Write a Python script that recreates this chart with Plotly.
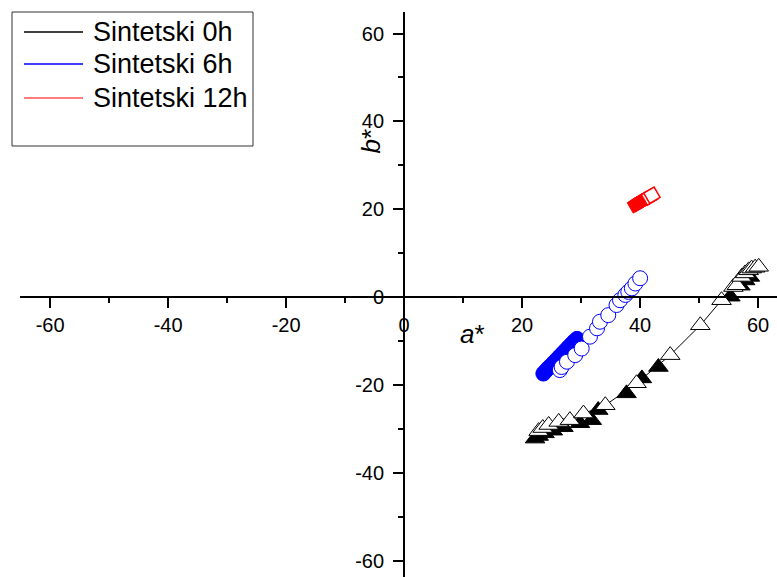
import plotly.graph_objects as go

# ---------------- data ----------------
a_0h_open = [22.8, 23.5, 24.5, 26.2, 28.1, 30.4, 34.1, 39.4, 45.1, 50.2, 53.8, 55.8, 56.4, 57.2, 57.8, 58.4, 58.9, 59.5, 60.1]
b_0h_open = [-30.5, -29.8, -29.1, -28.4, -28.0, -26.5, -24.6, -19.6, -13.2, -6.4, -0.7, 2.3, 2.7, 4.6, 5.4, 6.1, 6.5, 6.7, 6.9]
a_0h_fill = [22.2, 22.8, 23.8, 25.2, 27.0, 29.8, 31.8, 32.9, 37.7, 40.3, 43.1, 55.3, 57.0, 57.8, 58.6]
b_0h_fill = [-32.2, -31.6, -31.0, -30.4, -29.6, -28.7, -28.0, -25.7, -21.9, -18.5, -15.9, 0.1, 2.6, 3.8, 4.6]

a_6h_fill = [23.6, 24.0, 24.4, 24.9, 25.3, 25.8, 26.3, 26.8, 27.3, 27.8, 28.3, 28.8, 29.3]
b_6h_fill = [-17.4, -16.8, -16.2, -15.6, -15.0, -14.3, -13.6, -12.9, -12.2, -11.5, -10.8, -10.1, -9.5]
a_6h_open = [26.4, 26.7, 27.6, 29.0, 30.1, 31.5, 32.7, 33.2, 34.6, 36.0, 36.6, 37.5, 38.0, 38.6, 39.2, 40.0]
b_6h_open = [-16.6, -15.9, -14.7, -13.2, -11.7, -9.0, -7.1, -5.6, -4.1, -1.8, -0.7, 0.5, 1.2, 2.0, 3.1, 4.3]

a_12h_fill = [39.2, 39.6, 40.0, 40.4, 40.8]
b_12h_fill = [21.0, 21.3, 21.7, 22.0, 22.3]
a_12h_open = [41.6, 42.0]
b_12h_open = [22.8, 23.2]

series_names = ["Sintetski 0h", "Sintetski 6h", "Sintetski 12h"]
series_colors = ["#000000", "#0000FF", "#FF5050"]

x_range = [-65.1, 63.2]
y_range = [-63.7, 64.9]
tick_vals = [-60, -40, -20, 0, 20, 40, 60]
tick_text = ["-60", "-40", "-20", "0", "20", "40", "60"]

# ---------------- figure ----------------
W, H = 777, 577
ML, MR, MT, MB = 20, 0, 12, 0
PW, PH = W - ML - MR, H - MT - MB
FONT = "Liberation Sans, Arial, sans-serif"

def px_x(px):
    return (px - ML) / PW

def px_y(py):
    return (H - MB - py) / PH

fig = go.Figure()

# 0h filled triangles
fig.add_trace(go.Scatter(x=a_0h_fill, y=b_0h_fill, mode="markers", showlegend=False,
                         marker=dict(symbol="triangle-up", size=17, color="black",
                                     line=dict(color="black", width=1))))
# 0h open triangles with line
fig.add_trace(go.Scatter(x=a_0h_open, y=b_0h_open, mode="lines+markers", showlegend=False,
                         line=dict(color="black", width=1),
                         marker=dict(symbol="triangle-up", size=17, color="white",
                                     line=dict(color="black", width=1))))
# 6h filled circles
fig.add_trace(go.Scatter(x=a_6h_fill, y=b_6h_fill, mode="markers", showlegend=False,
                         marker=dict(symbol="circle", size=15, color="#0000FF",
                                     line=dict(color="#0000FF", width=1))))
# 6h open circles
fig.add_trace(go.Scatter(x=a_6h_open, y=b_6h_open, mode="markers", showlegend=False,
                         marker=dict(symbol="circle", size=15, color="white",
                                     line=dict(color="#0000FF", width=1))))
# 12h filled squares
fig.add_trace(go.Scatter(x=a_12h_fill, y=b_12h_fill, mode="markers", showlegend=False,
                         marker=dict(symbol="square", size=12, color="#FF0000", angle=-30,
                                     line=dict(color="#FF0000", width=1))))
# 12h open squares
fig.add_trace(go.Scatter(x=a_12h_open, y=b_12h_open, mode="markers", showlegend=False,
                         marker=dict(symbol="square", size=12, color="white", angle=-30,
                                     line=dict(color="#FF0000", width=1.5))))

xpos = (0 - y_range[0]) / (y_range[1] - y_range[0])
ypos = (0 - x_range[0]) / (x_range[1] - x_range[0])

axis_common = dict(showgrid=False, zeroline=False, showline=True, linecolor="black", linewidth=2,
                   ticks="outside", ticklen=10, tickwidth=2, tickcolor="black",
                   tickvals=tick_vals, ticktext=tick_text,
                   tickfont=dict(family=FONT, size=20, color="black"),
                   minor=dict(dtick=10, ticks="outside", ticklen=5, tickwidth=2, tickcolor="black"))

fig.update_layout(
    width=W, height=H,
    margin=dict(l=ML, r=MR, t=MT, b=MB, autoexpand=False),
    paper_bgcolor="white", plot_bgcolor="white",
    showlegend=False,
    xaxis=dict(range=x_range, anchor="free", position=xpos, side="bottom", **axis_common),
    yaxis=dict(range=y_range, anchor="free", position=ypos, side="left",
               ticklabelstandoff=5, **axis_common),
)

# axis titles
fig.add_annotation(x=px_x(472), y=px_y(334), xref="paper", yref="paper", text="<i>a</i>*",
                   showarrow=False, font=dict(family=FONT, size=26, color="black"))
fig.add_annotation(x=px_x(370), y=px_y(127), xref="paper", yref="paper", text="<i>b</i>*",
                   showarrow=False, textangle=-90, font=dict(family=FONT, size=26, color="black"))

# legend box
fig.add_shape(type="rect", xref="paper", yref="paper",
              x0=px_x(12), x1=px_x(253), y0=px_y(146), y1=px_y(12),
              line=dict(color="#333333", width=1), fillcolor="white", layer="above")
legend_rows = [32, 64, 98]
for name, col, ry in zip(series_names, series_colors, legend_rows):
    fig.add_shape(type="line", xref="paper", yref="paper",
                  x0=px_x(24), x1=px_x(83), y0=px_y(ry), y1=px_y(ry),
                  line=dict(color=col, width=1.5), layer="above")
    fig.add_annotation(x=px_x(91), y=px_y(ry), xref="paper", yref="paper", text=name,
                       xanchor="left", yanchor="middle", showarrow=False,
                       font=dict(family=FONT, size=27, color="black"))

fig.write_html("out.html", config={"displayModeBar": False},
               post_script="document.body.style.margin='0';")
